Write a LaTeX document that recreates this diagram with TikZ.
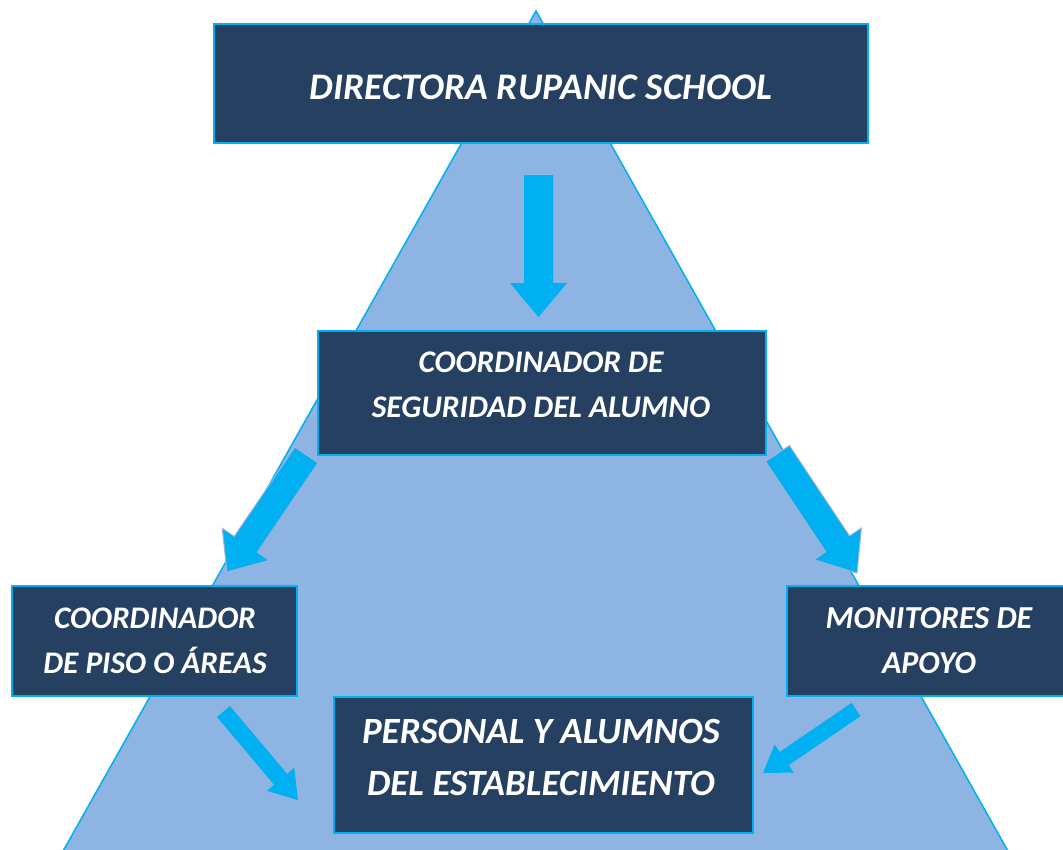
\documentclass[tikz,border=0pt]{standalone}
\usepackage{fontspec}
\setmainfont{Carlito}
\usetikzlibrary{calc}
\definecolor{boxfill}{HTML}{254061}
\definecolor{edgeblue}{HTML}{00B0F0}
\definecolor{trifill}{HTML}{8EB4E3}
\definecolor{arrowblue}{HTML}{00B0F0}
\definecolor{arrowedge}{HTML}{9CB2DA}
\tikzset{
  orgbox/.style={draw=edgeblue, fill=boxfill, line width=1.5pt, inner sep=0pt},
  orgtext/.style={text=white, inner sep=0pt, align=center},
  blockfill/.style={fill=arrowblue},
  blockedge/.style={fill=arrowblue, draw=arrowedge, line width=1pt},
}
% #1 style, #2 tail coord name, #3 tip coord name, #4 half shaft, #5 half head, #6 head length
\newcommand{\blockarrow}[6]{%
  \coordinate (#2-h) at ($(#3)!#6!(#2)$);
  \path[#1] ($(#2)!#4!90:(#3)$) -- ($(#2-h)!#4!-90:(#2)$) -- ($(#2-h)!#5!-90:(#2)$)
     -- (#3) -- ($(#2-h)!#5!90:(#2)$) -- ($(#2-h)!#4!90:(#2)$) -- ($(#2)!#4!-90:(#3)$) -- cycle;
}
\begin{document}
\begin{tikzpicture}[x=1pt,y=-1pt]
\useasboundingbox (0,0) rectangle (1063,849);
\clip (0,0) rectangle (1063,849);
\fill[white] (0,0) rectangle (1063,849);
% triangle
\path[fill=trifill, draw=edgeblue, line width=1.5pt] (536,11) -- (1013,860) -- (58,860) -- cycle;
% boxes
\node[orgbox, minimum width=654pt, minimum height=119pt] (dir) at (541,83.5) {};
\node[orgtext, font=\fontsize{37.5}{45}\selectfont\bfseries\itshape] (dir-t) at (541,87) {DIRECTORA RUPANIC SCHOOL};
\node[orgbox, minimum width=448pt, minimum height=124pt] (coord) at (542,393) {};
\node[orgtext, font=\fontsize{31.5}{45}\selectfont\bfseries\itshape] (coord-t) at (541,385) {COORDINADOR DE\\SEGURIDAD DEL ALUMNO};
\node[orgbox, minimum width=285pt, minimum height=110pt] (piso) at (154.5,641) {};
\node[orgtext, font=\fontsize{31.4}{45}\selectfont\bfseries\itshape] (piso-t) at (155,641) {COORDINADOR\\DE PISO O ÁREAS};
\node[orgbox, minimum width=286pt, minimum height=110pt, anchor=west] (mon) at (786,641) {};
\node[orgtext, font=\fontsize{32}{45}\selectfont\bfseries\itshape] (mon-t) at (929,641) {MONITORES DE\\APOYO};
\node[orgbox, minimum width=419pt, minimum height=136pt] (pers) at (543.5,765) {};
\node[orgtext, font=\fontsize{37}{52}\selectfont\bfseries\itshape] (pers-t) at (541,757) {PERSONAL Y ALUMNOS\\DEL ESTABLECIMIENTO};
% arrows
\coordinate (a1t) at (538.5,175); \coordinate (a1h) at (538.5,317);
\coordinate (a2t) at (306.5,455); \coordinate (a2h) at (227,572);
\coordinate (a3t) at (777.5,453.5); \coordinate (a3h) at (857,573);
\coordinate (a4t) at (223.5,711.5); \coordinate (a4h) at (298,800);
\coordinate (a5t) at (856,709.5); \coordinate (a5h) at (763,773);
\blockarrow{blockfill}{a1t}{a1h}{14.5pt}{28.5pt}{34pt}
\blockarrow{blockedge}{a2t}{a2h}{14pt}{28.5pt}{33.5pt}
\blockarrow{blockedge}{a3t}{a3h}{14.3pt}{28.5pt}{35pt}
\blockarrow{blockfill}{a4t}{a4h}{8.5pt}{17.8pt}{27pt}
\blockarrow{blockfill}{a5t}{a5h}{8pt}{17pt}{25.7pt}
\end{tikzpicture}
\end{document}
